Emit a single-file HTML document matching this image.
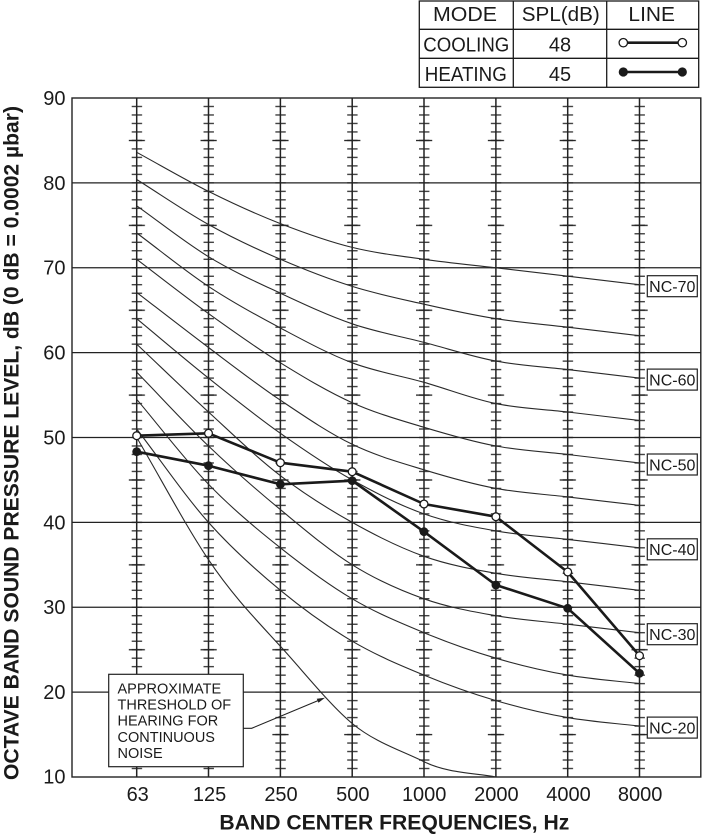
<!DOCTYPE html>
<html>
<head>
<meta charset="utf-8">
<style>
  html,body{margin:0;padding:0;background:#fff;}
  svg{display:block;}
  text{font-family:"Liberation Sans",Arial,sans-serif;fill:#1a1a1a;}
</style>
</head>
<body>
<svg width="702" height="835" viewBox="0 0 702 835" xmlns="http://www.w3.org/2000/svg">
  <defs>
    <pattern id="ts" patternUnits="userSpaceOnUse" x="128.7" y="93.756" width="71.83" height="8.4875">
      <rect x="3" y="3.64" width="10.4" height="1.2" fill="#222"/>
    </pattern>
    <pattern id="tl" patternUnits="userSpaceOnUse" x="128.7" y="98" width="71.83" height="84.875">
      <rect x="0" y="41.84" width="16.2" height="1.3" fill="#222"/>
    </pattern>
  </defs>

  <rect x="0" y="0" width="702" height="835" fill="#fff"/>

  <!-- horizontal gridlines -->
  <g stroke="#222" stroke-width="1.3">
    <line x1="72" y1="182.9" x2="701" y2="182.9"/>
    <line x1="72" y1="267.75" x2="701" y2="267.75"/>
    <line x1="72" y1="352.6" x2="701" y2="352.6"/>
    <line x1="72" y1="437.5" x2="701" y2="437.5"/>
    <line x1="72" y1="522.4" x2="701" y2="522.4"/>
    <line x1="72" y1="607.25" x2="701" y2="607.25"/>
    <line x1="72" y1="692.1" x2="701" y2="692.1"/>
  </g>

  <!-- column lines -->
  <g stroke="#222" stroke-width="1.5">
    <line x1="136.7" y1="98" x2="136.7" y2="777"/>
    <line x1="208.5" y1="98" x2="208.5" y2="777"/>
    <line x1="280.4" y1="98" x2="280.4" y2="777"/>
    <line x1="352.2" y1="98" x2="352.2" y2="777"/>
    <line x1="424.0" y1="98" x2="424.0" y2="777"/>
    <line x1="495.9" y1="98" x2="495.9" y2="777"/>
    <line x1="567.7" y1="98" x2="567.7" y2="777"/>
    <line x1="639.5" y1="98" x2="639.5" y2="777"/>
  </g>

  <!-- ticks -->
  <rect x="128.7" y="100" width="527" height="675" fill="url(#ts)"/>
  <rect x="128.7" y="98" width="527" height="679" fill="url(#tl)"/>

  <!-- plot border -->
  <rect x="72" y="98" width="628.8" height="679" fill="none" stroke="#222" stroke-width="1.4"/>

  <!-- NC curves -->
  <g fill="none" stroke="#2a2a2a" stroke-width="1.1">
    <path d="M136.7,152.3 C160.6,165.3 184.6,179.5 208.5,191.4 S256.4,214.3 280.4,223.6 S328.3,241.5 352.2,247.4 S400.1,255.9 424,259.3 S471.9,265 495.9,267.8 S543.8,273.4 567.7,276.2 S615.6,281.9 639.5,284.7"/>
    <path d="M136.7,179.5 C160.6,194.5 184.6,211.2 208.5,224.5 S256.4,249 280.4,259.3 S328.3,278.9 352.2,286.4 S400.1,298.8 424,304.2 S471.9,314.9 495.9,318.7 S543.8,324.4 567.7,327.2 S615.6,332.9 639.5,335.7"/>
    <path d="M136.7,205.8 C160.6,222.8 184.6,242.1 208.5,256.7 S256.4,282 280.4,293.2 S328.3,315.6 352.2,323.8 S400.1,336.2 424,342.4 S471.9,356.6 495.9,361.1 S543.8,366.8 567.7,369.6 S615.6,375.3 639.5,378.1"/>
    <path d="M136.7,233 C160.6,250.8 184.6,270.6 208.5,286.4 S256.4,315.3 280.4,328 S328.3,353.8 352.2,362.8 S400.1,375.5 424,382.3 S471.9,398.7 495.9,403.6 S543.8,409.2 567.7,412 S615.6,417.7 639.5,420.5"/>
    <path d="M136.7,259.3 C160.6,277.4 184.6,296.4 208.5,313.6 S256.4,348 280.4,362.8 S328.3,392 352.2,402.7 S400.1,420.1 424,427.3 S471.9,441.5 495.9,446 S543.8,451.7 567.7,454.5 S615.6,460.2 639.5,463"/>
    <path d="M136.7,292.4 C160.6,310.8 184.6,329.5 208.5,347.5 S256.4,384.1 280.4,400.2 S328.3,432.7 352.2,444.3 S400.1,462.5 424,469.8 S471.9,483.9 495.9,488.4 S543.8,494.1 567.7,496.9 S615.6,502.6 639.5,505.4"/>
    <path d="M136.7,318.7 C160.6,338.5 184.6,359 208.5,378.1 S256.4,416.3 280.4,433.3 S328.3,466.5 352.2,479.9 S400.1,505.4 424,513.9 S471.9,526.7 495.9,530.9 S543.8,536.6 567.7,539.4 S615.6,545 639.5,547.8"/>
    <path d="M136.7,344.1 C160.6,366.7 184.6,390.1 208.5,412 S256.4,457.3 280.4,475.7 S328.3,509 352.2,522.4 S400.1,547.8 424,556.3 S471.9,569.1 495.9,573.3 S543.8,579 567.7,581.8 S615.6,587.5 639.5,590.3"/>
    <path d="M136.7,372.1 C160.6,396.7 184.6,423.1 208.5,446 S256.4,489.8 280.4,509.6 S328.3,549.9 352.2,564.8 S400.1,590.3 424,598.8 S471.9,611.5 495.9,615.7 S543.8,621.4 567.7,624.2 S615.6,629.9 639.5,632.7"/>
    <path d="M136.7,399.3 C160.6,427.6 184.6,459.5 208.5,484.2 S256.4,528.7 280.4,547.8 S328.3,584.7 352.2,598.8 S400.1,622.8 424,632.7 S471.9,651.1 495.9,658.2 S543.8,670.9 567.7,675.1 S615.6,680.8 639.5,683.6"/>
    <path d="M136.7,429 C160.6,460.1 184.6,495.5 208.5,522.4 S256.4,570.5 280.4,590.3 S328.3,627.1 352.2,641.2 S400.1,665.2 424,675.1 S471.9,693.5 495.9,700.6 S543.8,713.4 567.7,717.6 S615.6,723.3 639.5,726.1"/>
    <!-- threshold of hearing -->
    <path d="M136.7,437.5 C160.6,478 184.6,524 208.5,559.7 S256.4,620 280.4,646.3 S330,705 352.2,723.5 S400,750 424,761.7 S475,773 495.9,777"/>
  </g>

  <!-- annotation box -->
  <rect x="108.7" y="674.3" width="134.6" height="92.4" fill="#fff" stroke="#222" stroke-width="1.2"/>
  <g font-size="14.5">
    <text x="117.5" y="693.3">APPROXIMATE</text>
    <text x="117.5" y="709.5">THRESHOLD OF</text>
    <text x="117.5" y="725.7">HEARING FOR</text>
    <text x="117.5" y="741.9">CONTINUOUS</text>
    <text x="117.5" y="758.1">NOISE</text>
  </g>
  <polyline points="243.3,728.3 251.7,728.3 318,700.6" fill="none" stroke="#222" stroke-width="1.1"/>
  <polygon points="325,697.7 318.45,702.8 316.75,698.8" fill="#222"/>

  <!-- data: cooling -->
  <polyline points="136.7,435.7 208.5,433.3 280.4,462.7 352.2,471.7 424,504 495.9,516.7 567.7,572 639.5,655.7" fill="none" stroke="#1a1a1a" stroke-width="2.6" stroke-linejoin="round"/>
  <!-- data: heating -->
  <polyline points="136.7,451.7 208.5,465.7 280.4,484.3 352.2,480.7 424,531.7 495.9,585 567.7,608.3 639.5,673.3" fill="none" stroke="#1a1a1a" stroke-width="2.6" stroke-linejoin="round"/>
  <g fill="#fff" stroke="#1a1a1a" stroke-width="1.3">
    <circle cx="136.7" cy="435.7" r="3.9"/>
    <circle cx="208.5" cy="433.3" r="3.9"/>
    <circle cx="280.4" cy="462.7" r="3.9"/>
    <circle cx="352.2" cy="471.7" r="3.9"/>
    <circle cx="424" cy="504" r="3.9"/>
    <circle cx="495.9" cy="516.7" r="3.9"/>
    <circle cx="567.7" cy="572" r="3.9"/>
    <circle cx="639.5" cy="655.7" r="3.9"/>
  </g>
  <g fill="#1a1a1a">
    <circle cx="136.7" cy="451.7" r="4.4"/>
    <circle cx="208.5" cy="465.7" r="4.4"/>
    <circle cx="280.4" cy="484.3" r="4.4"/>
    <circle cx="352.2" cy="480.7" r="4.4"/>
    <circle cx="424" cy="531.7" r="4.4"/>
    <circle cx="495.9" cy="585" r="4.4"/>
    <circle cx="567.7" cy="608.3" r="4.4"/>
    <circle cx="639.5" cy="673.3" r="4.4"/>
  </g>

  <!-- NC labels -->
  <g fill="#fff" stroke="#222" stroke-width="1.2">
    <rect x="647.3" y="275.7" width="50" height="21"/>
    <rect x="647.3" y="369.1" width="50" height="21"/>
    <rect x="647.3" y="454" width="50" height="21"/>
    <rect x="647.3" y="538.8" width="50" height="21"/>
    <rect x="647.3" y="623.7" width="50" height="21"/>
    <rect x="647.3" y="717.1" width="50" height="21"/>
  </g>
  <g font-size="16" text-anchor="middle">
    <text x="672.3" y="292">NC-70</text>
    <text x="672.3" y="385.4">NC-60</text>
    <text x="672.3" y="470.3">NC-50</text>
    <text x="672.3" y="555.1">NC-40</text>
    <text x="672.3" y="640">NC-30</text>
    <text x="672.3" y="733.4">NC-20</text>
  </g>

  <!-- y tick labels -->
  <g font-size="20" text-anchor="end">
    <text x="65.5" y="105">90</text>
    <text x="65.5" y="189.9">80</text>
    <text x="65.5" y="274.7">70</text>
    <text x="65.5" y="359.6">60</text>
    <text x="65.5" y="444.4">50</text>
    <text x="65.5" y="529.3">40</text>
    <text x="65.5" y="614.1">30</text>
    <text x="65.5" y="699">20</text>
    <text x="65.5" y="783.3">10</text>
  </g>

  <!-- x tick labels -->
  <g font-size="20" text-anchor="middle">
    <text x="137.7" y="801">63</text>
    <text x="209.6" y="801">125</text>
    <text x="281" y="801">250</text>
    <text x="352.8" y="801">500</text>
    <text x="424.2" y="801">1000</text>
    <text x="496.4" y="801">2000</text>
    <text x="568.5" y="801">4000</text>
    <text x="640.1" y="801">8000</text>
  </g>

  <!-- axis titles -->
  <text x="394.4" y="829.5" text-anchor="middle" font-size="21" font-weight="bold" textLength="350" lengthAdjust="spacingAndGlyphs">BAND CENTER FREQUENCIES, Hz</text>
  <text transform="translate(18.5,443) rotate(-90)" text-anchor="middle" font-size="21" font-weight="bold" textLength="674" lengthAdjust="spacingAndGlyphs">OCTAVE BAND SOUND PRESSURE LEVEL, dB (0 dB = 0.0002 µbar)</text>

  <!-- legend table -->
  <g stroke="#1a1a1a" stroke-width="1.3" fill="none">
    <rect x="419.3" y="1" width="279.4" height="86.3"/>
    <line x1="419.3" y1="29.3" x2="698.7" y2="29.3"/>
    <line x1="419.3" y1="58.3" x2="698.7" y2="58.3"/>
    <line x1="513.3" y1="1" x2="513.3" y2="87.3"/>
    <line x1="606.7" y1="1" x2="606.7" y2="87.3"/>
  </g>
  <g font-size="20" text-anchor="middle">
    <text x="465" y="21" textLength="64" lengthAdjust="spacingAndGlyphs">MODE</text>
    <text x="560.8" y="21" textLength="78" lengthAdjust="spacingAndGlyphs">SPL(dB)</text>
    <text x="651.7" y="21" textLength="46.5" lengthAdjust="spacingAndGlyphs">LINE</text>
    <text x="466.3" y="51.5" textLength="86" lengthAdjust="spacingAndGlyphs">COOLING</text>
    <text x="560" y="51.5">48</text>
    <text x="465.8" y="80.8" textLength="82" lengthAdjust="spacingAndGlyphs">HEATING</text>
    <text x="560" y="80.8">45</text>
  </g>
  <line x1="623.3" y1="42.7" x2="682.3" y2="42.7" stroke="#1a1a1a" stroke-width="2.6"/>
  <circle cx="623.3" cy="42.7" r="4.2" fill="#fff" stroke="#1a1a1a" stroke-width="1.3"/>
  <circle cx="682.3" cy="42.7" r="4.2" fill="#fff" stroke="#1a1a1a" stroke-width="1.3"/>
  <line x1="623.3" y1="72" x2="682.3" y2="72" stroke="#1a1a1a" stroke-width="2.6"/>
  <circle cx="623.3" cy="72" r="4.6" fill="#1a1a1a"/>
  <circle cx="682.3" cy="72" r="4.6" fill="#1a1a1a"/>
</svg>
</body>
</html>
